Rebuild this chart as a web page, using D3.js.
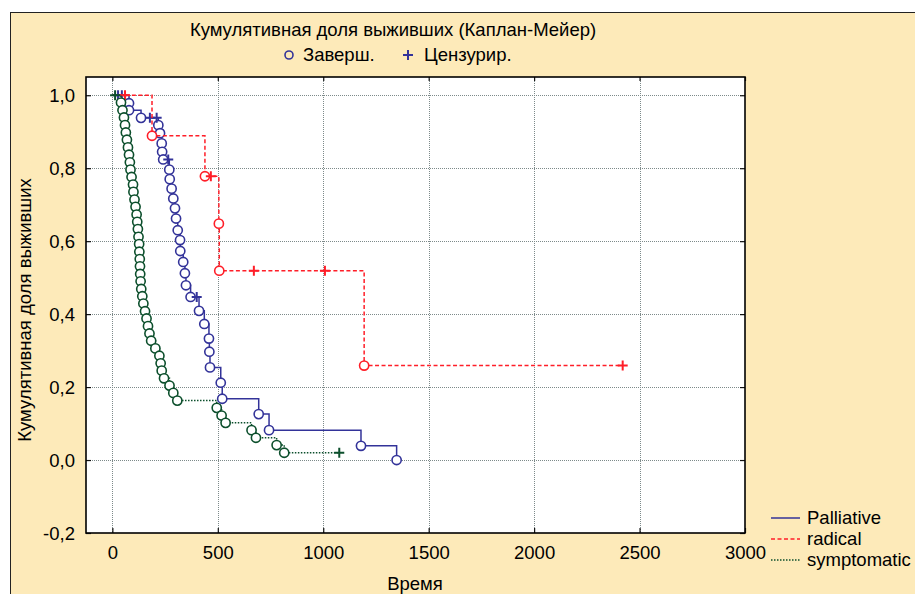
<!DOCTYPE html>
<html><head><meta charset="utf-8">
<script src="https://cdn.jsdelivr.net/npm/d3@7"></script>
<style>html,body{margin:0;padding:0;background:#fff;overflow:hidden}</style>
</head><body>
<svg id="chart" width="915" height="594"></svg>
<script>
// ---------- data ----------
const chartTitle = "Кумулятивная доля выживших (Каплан-Мейер)";
const markerLegend = ["Заверш.", "Цензурир."];
const xLabel = "Время";
const yLabel = "Кумулятивная доля выживших";
const seriesNames = ["Palliative", "radical", "symptomatic"];
const xTicks = [0, 500, 1000, 1500, 2000, 2500, 3000];
const yTicks = [-0.2, 0.0, 0.2, 0.4, 0.6, 0.8, 1.0];
const yTickLabels = ["-0,2", "0,0", "0,2", "0,4", "0,6", "0,8", "1,0"];

// event: 1 = completed (o), 0 = censored (+)
const palliativeTime  = [27, 45, 79, 79, 136, 178, 210, 218, 226, 234, 236, 241, 265, 270, 272, 281, 289, 297, 302, 310, 321, 322, 336, 344, 349, 371, 400, 411, 436, 458, 460, 463, 514, 521, 694, 743, 1179, 1348];
const palliativeSurv  = [1, 1, 0.978, 0.959, 0.938, 0.938, 0.938, 0.918, 0.896, 0.868, 0.845, 0.824, 0.824, 0.796, 0.770, 0.744, 0.717, 0.690, 0.662, 0.630, 0.603, 0.573, 0.543, 0.512, 0.479, 0.447, 0.447, 0.409, 0.373, 0.333, 0.297, 0.254, 0.212, 0.168, 0.126, 0.082, 0.039, 0.0];
const palliativeEvent = [0, 0, 1, 1, 1, 0, 0, 1, 1, 1, 1, 1, 0, 1, 1, 1, 1, 1, 1, 1, 1, 1, 1, 1, 1, 1, 0, 1, 1, 1, 1, 1, 1, 1, 1, 1, 1, 1];

const radicalTime  = [60, 188, 439, 467, 505, 507, 671, 1008, 1194, 2420];
const radicalSurv  = [1, 0.889, 0.778, 0.778, 0.648, 0.519, 0.519, 0.519, 0.259, 0.259];
const radicalEvent = [0, 1, 1, 0, 1, 1, 0, 0, 1, 0];

const symptomaticTime  = [13, 41, 48, 55, 60, 64, 69, 74, 79, 83, 86, 91, 98, 100, 105, 110, 115, 118, 121, 124, 127, 128, 130, 131, 132, 134, 137, 142, 147, 155, 162, 169, 176, 184, 204, 223, 229, 234, 245, 271, 289, 308, 495, 518, 537, 660, 681, 779, 815, 1076];
const symptomaticSurv  = [1, 0.980, 0.959, 0.939, 0.918, 0.898, 0.878, 0.857, 0.837, 0.816, 0.796, 0.776, 0.755, 0.735, 0.714, 0.694, 0.673, 0.653, 0.633, 0.612, 0.592, 0.571, 0.551, 0.531, 0.510, 0.490, 0.469, 0.449, 0.429, 0.408, 0.388, 0.367, 0.347, 0.327, 0.306, 0.286, 0.265, 0.245, 0.224, 0.204, 0.184, 0.163, 0.143, 0.122, 0.102, 0.082, 0.061, 0.041, 0.020, 0.020];
const symptomaticEvent = [0, 1, 1, 1, 1, 1, 1, 1, 1, 1, 1, 1, 1, 1, 1, 1, 1, 1, 1, 1, 1, 1, 1, 1, 1, 1, 1, 1, 1, 1, 1, 1, 1, 1, 1, 1, 1, 1, 1, 1, 1, 1, 1, 1, 1, 1, 1, 1, 1, 0];

// ---------- drawing ----------
const svg = d3.select("#chart");
const FONT = "'Liberation Sans', Arial, sans-serif";
const FS = "18.5px";
const bg = "#FDEAB9";
const colors = ["#333399", "#FF1E28", "#0C4F2C"];
const dashes = [null, "4,2.5", "1.5,1.5"];

svg.append("rect").attr("x", 10.5).attr("y", 12.5).attr("width", 1000).attr("height", 1000)
  .attr("fill", bg).attr("stroke", "#222").attr("stroke-width", 1);

const L = 86, R = 745, T = 77, B = 533;
const x = d3.scaleLinear().domain([-125, 3000]).range([L, R]);
const y = d3.scaleLinear().domain([-0.2, 1.05]).range([B, T]);

svg.append("rect").attr("x", L).attr("y", T).attr("width", R - L).attr("height", B - T).attr("fill", "#fff");

// grid
const grid = svg.append("g");
grid.selectAll(".gx").data(xTicks.filter(d => d < 3000)).join("line")
  .attr("x1", d => Math.round(x(d)) + 0.5).attr("x2", d => Math.round(x(d)) + 0.5)
  .attr("y1", T).attr("y2", B)
  .attr("stroke", "#7d8a8a").attr("stroke-width", 1).attr("stroke-dasharray", "1,1");
grid.selectAll(".gy").data(yTicks.filter(d => d > -0.2)).join("line")
  .attr("y1", d => Math.round(y(d)) + 0.5).attr("y2", d => Math.round(y(d)) + 0.5)
  .attr("x1", L).attr("x2", R)
  .attr("stroke", "#7d8a8a").attr("stroke-width", 1).attr("stroke-dasharray", "1,1");

// axes (inward ticks on all four sides)
const axB = svg.append("g").attr("transform", `translate(0,${B})`)
  .call(d3.axisBottom(x).tickValues(xTicks).tickSize(-5).tickPadding(13).tickFormat(d3.format("d")));
const axT = svg.append("g").attr("transform", `translate(0,${T})`)
  .call(d3.axisTop(x).tickValues(xTicks).tickSize(-4).tickFormat(""));
const axL = svg.append("g").attr("transform", `translate(${L},0)`)
  .call(d3.axisLeft(y).tickValues(yTicks).tickSize(-5).tickPadding(11)
    .tickFormat((d, i) => yTickLabels[i]));
const axR = svg.append("g").attr("transform", `translate(${R},0)`)
  .call(d3.axisRight(y).tickValues(yTicks).tickSize(-5).tickFormat(""));
[axB, axT, axL, axR].forEach(a => {
  a.select(".domain").remove();
  a.selectAll("line").attr("stroke", "#111").attr("stroke-width", 1.2);
  a.selectAll("text").attr("font-family", FONT).attr("font-size", FS).attr("fill", "#000");
});
axL.selectAll("text").attr("dy", "0.36em");

svg.append("rect").attr("x", L).attr("y", T).attr("width", R - L).attr("height", B - T)
  .attr("fill", "none").attr("stroke", "#000").attr("stroke-width", 1.6);

// series
const series = [
  {t: palliativeTime, s: palliativeSurv, e: palliativeEvent},
  {t: radicalTime, s: radicalSurv, e: radicalEvent},
  {t: symptomaticTime, s: symptomaticSurv, e: symptomaticEvent}
];
const line = d3.line().x(d => x(d[0])).y(d => y(d[1])).curve(d3.curveStepAfter);
series.forEach((sr, i) => {
  const pts = [[0, 1]].concat(sr.t.map((t, k) => [t, sr.s[k]]));
  const g = svg.append("g");
  g.append("path").attr("d", line(pts)).attr("fill", "none")
    .attr("stroke", colors[i]).attr("stroke-width", 1.5)
    .attr("stroke-dasharray", dashes[i]);
  const ev = sr.t.map((t, k) => ({t, s: sr.s[k], e: sr.e[k]}));
  g.selectAll("circle").data(ev.filter(d => d.e === 1)).join("circle")
    .attr("cx", d => x(d.t)).attr("cy", d => y(d.s)).attr("r", 4.6)
    .attr("fill", "#fff").attr("stroke", colors[i]).attr("stroke-width", 1.6);
  g.selectAll("path.cens").data(ev.filter(d => d.e === 0)).join("path").attr("class", "cens")
    .attr("d", d => `M${x(d.t) - 5},${y(d.s)}H${x(d.t) + 5}M${x(d.t)},${y(d.s) - 5}V${y(d.s) + 5}`)
    .attr("stroke", colors[i]).attr("stroke-width", 2).attr("fill", "none");
});

// titles
svg.append("text").attr("x", 393).attr("y", 36).attr("text-anchor", "middle")
  .attr("font-family", FONT).attr("font-size", FS).text(chartTitle);
svg.append("circle").attr("cx", 289).attr("cy", 55).attr("r", 4)
  .attr("fill", "none").attr("stroke", colors[0]).attr("stroke-width", 1.6);
svg.append("text").attr("x", 303).attr("y", 61).attr("font-family", FONT).attr("font-size", FS).text(markerLegend[0]);
svg.append("path").attr("d", "M403,55H413M408,50V60").attr("stroke", colors[0]).attr("stroke-width", 2);
svg.append("text").attr("x", 424).attr("y", 61).attr("font-family", FONT).attr("font-size", FS).text(markerLegend[1]);

svg.append("text").attr("transform", "translate(31,310) rotate(-90)").attr("text-anchor", "middle")
  .attr("font-family", FONT).attr("font-size", FS).text(yLabel);
svg.append("text").attr("x", 415).attr("y", 590).attr("text-anchor", "middle")
  .attr("font-family", FONT).attr("font-size", FS).text(xLabel);

// series legend
seriesNames.forEach((n, i) => {
  const yy = 518 + i * 21;
  svg.append("line").attr("x1", 771).attr("x2", 800).attr("y1", yy).attr("y2", yy)
    .attr("stroke", colors[i]).attr("stroke-width", 1.5).attr("stroke-dasharray", dashes[i]);
  svg.append("text").attr("x", 807).attr("y", yy + 6).attr("font-family", FONT).attr("font-size", FS).text(n);
});
</script>
</body></html>
